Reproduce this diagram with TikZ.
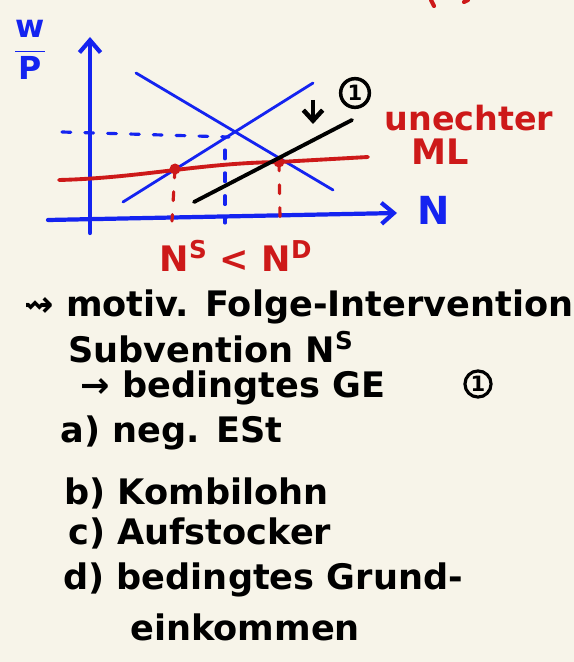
\documentclass[tikz,border=0pt]{standalone}
\usepackage{fontspec}
\setmainfont{DejaVu Sans}
\usetikzlibrary{arrows.meta}

\definecolor{paper}{RGB}{247,244,233}
\definecolor{inkblue}{RGB}{20,35,240}
\definecolor{inkred}{RGB}{205,25,25}

\tikzset{
  axis/.style={inkblue,line width=2.4pt,line cap=round,-{Straight Barb[length=7pt,width=12pt]}},
  curve/.style={inkblue,line width=1.6pt,line cap=round},
  mlline/.style={inkred,line width=2.2pt,line cap=round},
  guide/.style={line width=1.8pt,line cap=round,dash pattern=on 5pt off 8pt},
  note/.style={anchor=west,inner sep=0pt,font=\fontsize{20}{22}\selectfont\bfseries},
}

\begin{document}
\begin{tikzpicture}[x=0.02cm,y=-0.02cm]
\fill[paper] (0,0) rectangle (574,662);
\useasboundingbox (0,0) rectangle (574,662);

% axes
\coordinate (Ybot) at (90,233);
\coordinate (Ytop) at (90,37);
\coordinate (Xl) at (48,220);
\coordinate (Xr) at (397,213);
\draw[axis] (Ybot) -- (Ytop);
\draw[axis] (Xl) -- (Xr);
\node[inkblue,font=\fontsize{18}{20}\selectfont\bfseries] (wp) at (30,50) {$\displaystyle\frac{\mathbf{w}}{\mathbf{P}}$};
\node[inkblue,font=\fontsize{22}{24}\selectfont\bfseries] (nlab) at (434,210) {N};

% demand and supply
\coordinate (D1) at (136,73);
\coordinate (D2) at (333,190);
\coordinate (S1) at (123,202);
\coordinate (S2) at (313,83);
\coordinate (E) at (229,137);
\draw[curve] (D1) -- (D2);
\draw[curve] (S1) -- (S2);
\draw[inkblue,guide] (62,132) -- (E);
\draw[inkblue,guide] (225,150) -- (225,223);

% minimum wage
\coordinate (M1) at (59,180);
\coordinate (M2) at (368,157);
\coordinate (NS) at (175,169);
\coordinate (ND) at (279,162);
\draw[mlline] (M1) .. controls (140,178) and (200,163) .. (ND) -- (M2);
\fill[inkred] (NS) circle (5.5);
\fill[inkred] (ND) circle (5.5);
\draw[inkred,guide] (NS) -- (172,221);
\draw[inkred,guide] (ND) -- (280,217);

% shifted supply
\coordinate (B1) at (194,202);
\coordinate (B2) at (352,120);
\draw[black,line width=2.2pt,line cap=round] (B1) -- (B2);
\coordinate (A1) at (313,100);
\coordinate (A2) at (313,124);
\draw[black,line width=2.6pt,-{Straight Barb[length=6pt,width=11pt]}] (A1) -- (A2);
\node[draw,circle,line width=2pt,inner sep=1.5pt,font=\fontsize{12}{12}\selectfont\bfseries] (one) at (355,93) {1};

% labels in red
\node[inkred,font=\fontsize{19}{22}\selectfont\bfseries] (mltop) at (469,118) {unechter};
\node[inkred,font=\fontsize{20}{22}\selectfont\bfseries] (mlbot) at (440,152) {ML};
\node[inkred,font=\fontsize{20}{22}\selectfont\bfseries] (nsnd) at (236,256) {N\textsuperscript{S} < N\textsuperscript{D}};
\draw[inkred,line width=2.4pt,line cap=round] (431,0) -- (434,6);
\draw[inkred,line width=2.4pt,line cap=round] (464,2) -- (468,0);

% notes
\node[note] (l1) at (24,307) {⇝ motiv. Folge-Intervention};
\node[note] (l2) at (68,347) {Subvention N\textsuperscript{S}};
\node[note] (l3) at (80,388) {→ bedingtes GE};
\node[draw,circle,line width=1.8pt,inner sep=1pt,font=\fontsize{12}{12}\selectfont\bfseries] (one2) at (478,384) {1};
\node[note] (l4) at (60,433) {a) neg. ESt};
\node[note] (l5) at (64,493) {b) Kombilohn};
\node[note] (l6) at (68,533) {c) Aufstocker};
\node[note] (l7) at (63,580) {d) bedingtes Grund-};
\node[note] (l8) at (130,627) {einkommen};
\end{tikzpicture}
\end{document}
